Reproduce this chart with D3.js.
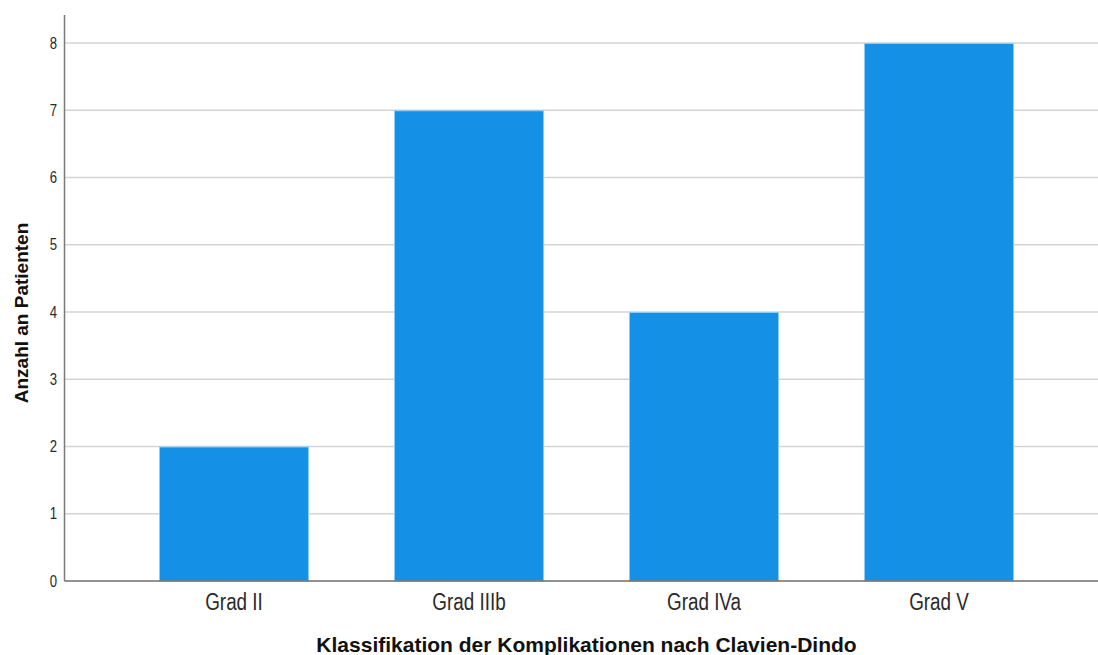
<!DOCTYPE html>
<html><head><meta charset="utf-8">
<script src="https://cdn.jsdelivr.net/npm/d3@7"></script>
<style>body{margin:0;background:#fff}svg{display:block}text{font-family:"Liberation Sans",Arial,sans-serif}</style>
</head><body><svg id="c" width="1098" height="655"></svg>
<script>
const categories = ["Grad II", "Grad IIIb", "Grad IVa", "Grad V"];
const values = [2, 7, 4, 8];
const yTicks = [0, 1, 2, 3, 4, 5, 6, 7, 8];
const xTitle = "Klassifikation der Komplikationen nach Clavien-Dindo";
const yTitle = "Anzahl an Patienten";

const svg = d3.select("#c");
const axisX = 64.5, plotRight = 1098, y0 = 581, yTop = 15;
const sx = 0.82; // narrow-font emulation
const y = d3.scaleLinear().domain([0, 8]).range([581, 43]);
const pin = 85/235;
const x = d3.scaleBand().domain(categories).range([116.5, 1056.5]).paddingInner(pin).paddingOuter(pin/2);

// gridlines
svg.append("g").selectAll("line").data(yTicks.filter(d=>d>0)).join("line")
  .attr("x1", axisX).attr("x2", plotRight)
  .attr("y1", d=>y(d)).attr("y2", d=>y(d))
  .attr("stroke", "#d4d4d4").attr("stroke-width", 1.6);

// bars
svg.append("g").selectAll("rect").data(values).join("rect")
  .attr("x", (d,i)=>x(categories[i])+0.5)
  .attr("width", x.bandwidth()-1)
  .attr("y", d=>y(d)+0.5)
  .attr("height", d=>y(0)-y(d)-0.5)
  .attr("fill", "#1490e6")
  .attr("stroke", "#8ccdf5").attr("stroke-width", 1);

// y axis
const yAxis = svg.append("g").attr("transform", `translate(${axisX},0)`)
  .call(d3.axisLeft(y).tickValues(yTicks).tickSize(0).tickPadding(7.5/sx).tickFormat(d3.format("d")));
yAxis.select(".domain").remove();
yAxis.selectAll("text").attr("font-size", 16).attr("fill", "#2a2a2a")
  .attr("transform", `scale(${sx},1)`);
svg.append("line").attr("x1", axisX).attr("x2", axisX).attr("y1", yTop).attr("y2", y0)
  .attr("stroke", "#7a7a7a").attr("stroke-width", 1.5);

// x axis
const xAxis = svg.append("g").attr("transform", `translate(0,${y0})`)
  .call(d3.axisBottom(x).tickSize(0).tickPadding(13));
xAxis.select(".domain").remove();
xAxis.selectAll("text").attr("font-size", 23).attr("fill", "#2a2a2a")
  .attr("transform", `scale(${sx},1)`);
svg.append("line").attr("x1", axisX).attr("x2", plotRight).attr("y1", y0).attr("y2", y0)
  .attr("stroke", "#6e6e6e").attr("stroke-width", 1.5);

// titles
svg.append("text").attr("x", 586.5).attr("y", 652).attr("text-anchor", "middle")
  .attr("font-size", 21).attr("font-weight", "bold").attr("fill", "#111").text(xTitle);
svg.append("text").attr("transform", "translate(28,313) rotate(-90)").attr("text-anchor", "middle")
  .attr("font-size", 19).attr("font-weight", "bold").attr("fill", "#111").text(yTitle);
</script></body></html>
